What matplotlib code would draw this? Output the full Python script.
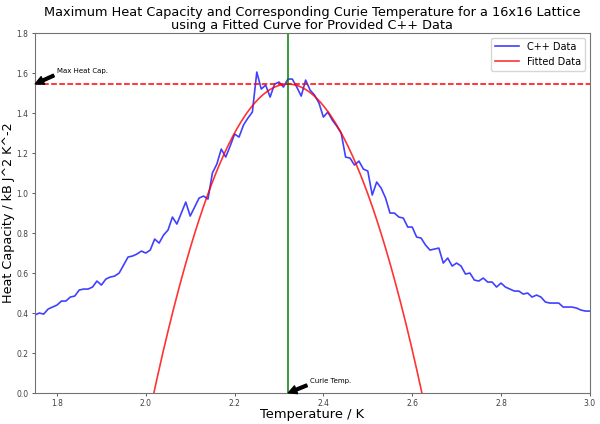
import numpy as np
import matplotlib
matplotlib.use('Agg')
import matplotlib.pyplot as plt

temps = np.round(np.arange(1.75, 3.0001, 0.01), 2)
heat_cap = [0.39, 0.40, 0.395, 0.42, 0.43, 0.44, 0.46, 0.46, 0.48, 0.485,
            0.515, 0.52, 0.52, 0.53, 0.56, 0.54, 0.57, 0.58, 0.585, 0.60,
            0.64, 0.68, 0.685, 0.695, 0.71, 0.70, 0.715, 0.77, 0.75, 0.79,
            0.815, 0.88, 0.845, 0.90, 0.955, 0.885, 0.93, 0.975, 0.985, 0.97,
            1.10, 1.145, 1.22, 1.18, 1.235, 1.295, 1.28, 1.34, 1.375, 1.405,
            1.605, 1.52, 1.54, 1.48, 1.545, 1.555, 1.53, 1.57, 1.57, 1.53,
            1.485, 1.565, 1.515, 1.49, 1.45, 1.38, 1.405, 1.365, 1.335, 1.30,
            1.18, 1.175, 1.14, 1.16, 1.12, 1.11, 0.99, 1.055, 1.025, 0.975,
            0.90, 0.90, 0.88, 0.875, 0.83, 0.83, 0.78, 0.775, 0.74, 0.715,
            0.72, 0.725, 0.65, 0.675, 0.635, 0.65, 0.635, 0.595, 0.60, 0.565,
            0.56, 0.575, 0.555, 0.555, 0.53, 0.55, 0.53, 0.52, 0.51, 0.51,
            0.495, 0.50, 0.48, 0.49, 0.48, 0.455, 0.45, 0.45, 0.45, 0.43,
            0.43, 0.43, 0.425, 0.415, 0.41, 0.41]

# fitted parabola: C = max_cap - curv*(T - curie_temp)^2
curie_temp = 2.32
max_cap = 1.545
curv = 16.95
fit_coeffs = [-curv, 2 * curv * curie_temp, max_cap - curv * curie_temp ** 2]

fig = plt.figure(figsize=(6, 4.24), dpi=100)
ax = fig.add_axes([0.058, 0.073, 0.925, 0.849])

ax.plot(temps, heat_cap, color='blue', alpha=0.75, lw=1.2, label='C++ Data')
t_fine = np.linspace(1.75, 3.0, 400)
ax.plot(t_fine, np.polyval(fit_coeffs, t_fine), color='red', alpha=0.8, lw=1.2, label='Fitted Data')
ax.axhline(max_cap, color='red', ls='--', lw=1.1)
ax.axvline(curie_temp, color='green', lw=1.1)

ax.annotate('Max Heat Cap.', xy=(1.75, max_cap), xytext=(1.80, 1.6), fontsize=5,
            arrowprops=dict(facecolor='black', width=2, headwidth=6, headlength=6, shrink=0.02))
ax.annotate('Curie Temp.', xy=(curie_temp, 0), xytext=(2.37, 0.05), fontsize=5,
            arrowprops=dict(facecolor='black', width=2, headwidth=6, headlength=6, shrink=0.02))

ax.set_xlim(1.75, 3.0)
ax.set_ylim(0, 1.8)
ax.set_xticks([1.8, 2.0, 2.2, 2.4, 2.6, 2.8, 3.0])
ax.set_yticks(np.arange(0, 1.81, 0.2))
ax.tick_params(labelsize=5.5, length=2.5, width=0.6, colors='0.25', pad=2)
for s in ax.spines.values():
    s.set_color('0.45')
    s.set_linewidth(0.8)

ax.set_title('Maximum Heat Capacity and Corresponding Curie Temperature for a 16x16 Lattice\nusing a Fitted Curve for Provided C++ Data',
             fontsize=9.3, linespacing=1.0, pad=3)
ax.set_xlabel('Temperature / K', fontsize=9.4, labelpad=0)
ax.set_ylabel('Heat Capacity / kB J^2 K^-2', fontsize=9.2, labelpad=1)
ax.legend(loc='upper right', fontsize=7, handlelength=2.5)

fig.savefig('out.png', dpi=100)
